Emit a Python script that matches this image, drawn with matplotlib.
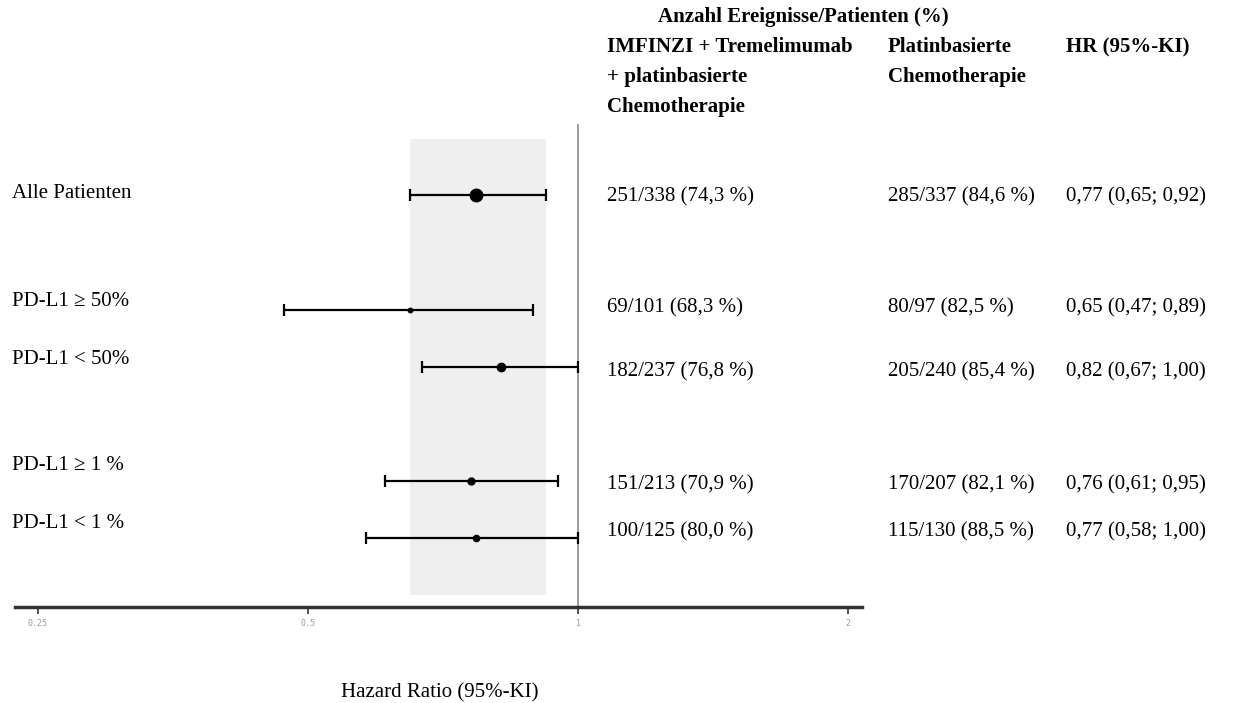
import matplotlib
matplotlib.use("Agg")
import matplotlib.pyplot as plt
import numpy as np

plt.rcParams["font.family"] = ["Liberation Serif", "DejaVu Serif"]

# data
subgroups = ["Alle Patienten", "PD-L1 \u2265 50%", "PD-L1 < 50%", "PD-L1 \u2265 1 %", "PD-L1 < 1 %"]
hr = [0.77, 0.65, 0.82, 0.76, 0.77]
ci_low = [0.65, 0.47, 0.67, 0.61, 0.58]
ci_high = [0.92, 0.89, 1.00, 0.95, 1.00]
arm_imfinzi = ["251/338 (74,3 %)", "69/101 (68,3 %)", "182/237 (76,8 %)", "151/213 (70,9 %)", "100/125 (80,0 %)"]
arm_chemo = ["285/337 (84,6 %)", "80/97 (82,5 %)", "205/240 (85,4 %)", "170/207 (82,1 %)", "115/130 (88,5 %)"]
hr_text = ["0,77 (0,65; 0,92)", "0,65 (0,47; 0,89)", "0,82 (0,67; 1,00)", "0,76 (0,61; 0,95)", "0,77 (0,58; 1,00)"]
xticks = [0.25, 0.5, 1, 2]

# layout (pixel rows, figure is 1240x703 at dpi 100)
W, H = 1240, 703
bar_y = [195, 310, 367, 481, 538]
label_y = [193, 302, 360, 465, 523]
table_y = [197, 308, 372, 485, 532]
marker_size = [9, 3.2, 6, 5, 4.5]
px_per_doubling = 270
x_one = 578
ax_left, ax_right, ax_bottom = 15, 862, 607

fig = plt.figure(figsize=(W / 100, H / 100), dpi=100)
ax = fig.add_axes([ax_left / W, (H - ax_bottom) / H, (ax_right - ax_left) / W, ax_bottom / H])
ax.set_xscale("log", base=2)
ax.set_xlim(2 ** ((ax_left - x_one) / px_per_doubling), 2 ** ((ax_right - x_one) / px_per_doubling))
ax.set_ylim(ax_bottom, 0)

# shaded band = overall CI
ax.fill_between([ci_low[0], ci_high[0]], 595, 139, color="#efefef", lw=0, zorder=0)
ax.plot([1, 1], [125, ax_bottom], color="#8c8c8c", lw=1.2, zorder=1)

for i in range(len(subgroups)):
    ax.errorbar(hr[i], bar_y[i], xerr=[[hr[i] - ci_low[i]], [ci_high[i] - hr[i]]],
                fmt="o", color="black", ms=marker_size[i], elinewidth=1.6,
                capsize=4.5, capthick=1.6, zorder=3)

for s in ["top", "left", "right"]:
    ax.spines[s].set_visible(False)
ax.spines["bottom"].set_linewidth(2.5)
ax.spines["bottom"].set_color("#333333")
ax.set_yticks([])
ax.set_xticks(xticks)
ax.set_xticklabels(["0.25", "0.5", "1", "2"])
ax.minorticks_off()
ax.tick_params(axis="x", length=5, width=1.2, color="#333333", labelsize=6,
               labelcolor="#999999", pad=4)
for t in ax.get_xticklabels():
    t.set_family("DejaVu Sans Mono")

fs = 15
def fx(px):
    return px / W

def fy(py):
    return 1 - py / H

for i in range(len(subgroups)):
    fig.text(fx(12), fy(label_y[i]), subgroups[i], fontsize=fs, va="center", ha="left")
    fig.text(fx(607), fy(table_y[i]), arm_imfinzi[i], fontsize=fs, va="center", ha="left")
    fig.text(fx(888), fy(table_y[i]), arm_chemo[i], fontsize=fs, va="center", ha="left")
    fig.text(fx(1066), fy(table_y[i]), hr_text[i], fontsize=fs, va="center", ha="left")

fig.text(fx(658), fy(17), "Anzahl Ereignisse/Patienten (%)", fontsize=fs, weight="bold", va="center")
fig.text(fx(607), fy(47), "IMFINZI + Tremelimumab", fontsize=fs, weight="bold", va="center")
fig.text(fx(607), fy(77), "+ platinbasierte", fontsize=fs, weight="bold", va="center")
fig.text(fx(607), fy(107), "Chemotherapie", fontsize=fs, weight="bold", va="center")
fig.text(fx(888), fy(47), "Platinbasierte", fontsize=fs, weight="bold", va="center")
fig.text(fx(888), fy(77), "Chemotherapie", fontsize=fs, weight="bold", va="center")
fig.text(fx(1066), fy(47), "HR (95%-KI)", fontsize=fs, weight="bold", va="center")

fig.text(fx(440), fy(693), "Hazard Ratio (95%-KI)", fontsize=fs, ha="center", va="center")

fig.savefig("out.png", dpi=100)
